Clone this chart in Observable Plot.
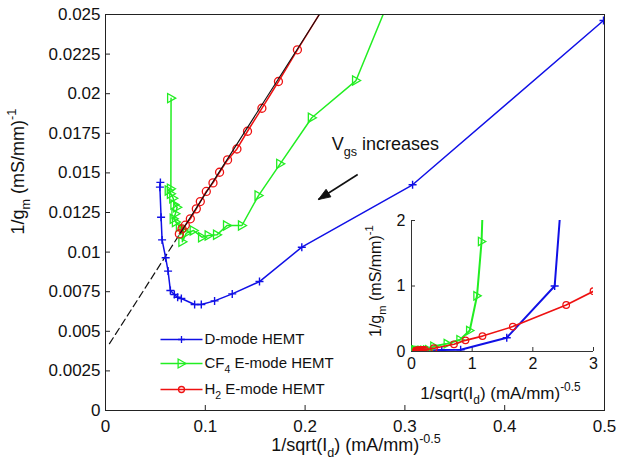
<!DOCTYPE html>
<html>
<head>
<meta charset="utf-8">
<script src="https://cdn.jsdelivr.net/npm/d3@7"></script>
<script src="https://cdn.jsdelivr.net/npm/@observablehq/plot@0.6"></script>
<style>
  html, body { margin: 0; padding: 0; background: #fff; }
  #wrap { position: relative; width: 618px; height: 460px; background: #fff; }
  #inset { position: absolute; left: 360px; top: 210px; }
</style>
</head>
<body>
<div id="wrap"><div id="main"></div><div id="inset"></div></div>
<script>
// ---------- data ----------
const xTicks = [0, 0.1, 0.2, 0.3, 0.4, 0.5];
const xTickLabels = ["0", "0.1", "0.2", "0.3", "0.4", "0.5"];
const yTicks = [0, 0.0025, 0.005, 0.0075, 0.01, 0.0125, 0.015, 0.0175, 0.02, 0.0225, 0.025];
const yTickLabels = ["0", "0.0025", "0.005", "0.0075", "0.01", "0.0125", "0.015", "0.0175", "0.02", "0.0225", "0.025"];

const dmodeX = [0.0550, 0.0545, 0.0557, 0.0567, 0.0603, 0.0627, 0.0650, 0.0690, 0.0723, 0.0760, 0.0893, 0.0960, 0.1093, 0.1270, 0.1543, 0.1967, 0.3077, 0.4990];
const dmodeY = [0.01440, 0.01410, 0.01220, 0.01077, 0.00964, 0.00880, 0.00758, 0.00732, 0.00715, 0.00707, 0.00669, 0.00669, 0.00692, 0.00736, 0.00814, 0.01031, 0.01425, 0.02462];

const cf4X = [0.0657, 0.0655, 0.0633, 0.0655, 0.0678, 0.0690, 0.0718, 0.0700, 0.0683, 0.0705, 0.0745, 0.0780, 0.0770, 0.0810, 0.0883, 0.0967, 0.1033, 0.1117, 0.1217, 0.1367, 0.1533, 0.1750, 0.2067, 0.2510, 0.2860];
const cf4Y = [0.01972, 0.01400, 0.01389, 0.01368, 0.01340, 0.01300, 0.01283, 0.01242, 0.01210, 0.01190, 0.01160, 0.01140, 0.01065, 0.01120, 0.01136, 0.01094, 0.01105, 0.01109, 0.01168, 0.01168, 0.01357, 0.01557, 0.01848, 0.02083, 0.02620];

const h2X = [0.0740, 0.0767, 0.0800, 0.0850, 0.0910, 0.0950, 0.1010, 0.1077, 0.1143, 0.1223, 0.1317, 0.1423, 0.1567, 0.1733, 0.1923, 0.2200];
const h2Y = [0.01115, 0.01147, 0.01170, 0.01210, 0.01273, 0.01319, 0.01383, 0.01437, 0.01504, 0.01582, 0.01651, 0.01763, 0.01908, 0.02077, 0.02277, 0.02560];

// linear fit line (dashed extrapolation, then solid)
const fitDashX = [0.0040, 0.0750];
const fitDashY = [0.00422, 0.01120];
const fitSolidX = [0.0750, 0.2143];
const fitSolidY = [0.01120, 0.02500];

// annotation
const arrowData = [{x1: 0.2527, y1: 0.01490, x2: 0.2133, y2: 0.01332}];
const noteData = [{x: 0.2267, y: 0.01678, text: "V_{gs} increases"}];

// inset data (wide range)
const insetXTicks = [0, 1, 2, 3];
const insetYTicks = [0, 1, 2];
const dmodeInsetX = [...dmodeX, 0.81, 1.57, 2.36, 2.45];
const dmodeInsetY = [...dmodeY, 0.027, 0.21, 1.00, 2.10];
const cf4InsetX = [...cf4X, 0.37, 0.59, 0.80, 0.96, 1.08, 1.155, 1.17];
const cf4InsetY = [...cf4Y, 0.08, 0.12, 0.18, 0.32, 0.85, 1.68, 2.10];
const h2InsetX = [...h2X, 0.37, 0.70, 0.89, 1.17, 1.67, 2.55, 3.00];
const h2InsetY = [...h2Y, 0.05, 0.11, 0.17, 0.235, 0.38, 0.71, 0.92];

const seriesNames = ["D-mode HEMT", "CF_{4} E-mode HEMT", "H_{2} E-mode HEMT"];
const yLabel = "1/g_{m} (mS/mm)^{-1}";
const xLabel = "1/sqrt(I_{d}) (mA/mm)^{-0.5}";

// ---------- styles ----------
const BLUE = "#1010e6", GREEN = "#22ee22", RED = "#ee1111";
const FONT = "'Liberation Sans', Arial, Helvetica, sans-serif";

const plusSym = {draw(ctx, size) { const r = Math.sqrt(size / Math.PI); ctx.moveTo(-r, 0); ctx.lineTo(r, 0); ctx.moveTo(0, -r); ctx.lineTo(0, r); }};
const triSym = {draw(ctx, size) { const r = Math.sqrt(size / Math.PI); ctx.moveTo(r, 0); ctx.lineTo(-r * 0.75, -r); ctx.lineTo(-r * 0.75, r); ctx.closePath(); }};
const segSym = (half) => ({draw(ctx) { ctx.moveTo(-half, 0); ctx.lineTo(half, 0); }});
const headSym = {draw(ctx) { ctx.moveTo(0, 0); ctx.lineTo(-12, -4.5); ctx.lineTo(-12, 4.5); ctx.closePath(); }};

const zip = (xs, ys) => xs.map((x, i) => ({x, y: ys[i]}));
const dmode = zip(dmodeX, dmodeY), cf4 = zip(cf4X, cf4Y), h2 = zip(h2X, h2Y);
const fitDash = zip(fitDashX, fitDashY), fitSolid = zip(fitSolidX, fitSolidY);

// ---------- main plot ----------
const W = 618, H = 460, mL = 105, mR = 14, mT = 14, mB = 50;
const fw = W - mL - mR, fh = H - mT - mB;
const xDom = [0, 0.5], yDom = [0, 0.025];

// arrow head orientation in screen space (derived from the scales' pixel ratios)
const a = arrowData[0];
const headAngle = Math.atan2(-(a.y2 - a.y1) * fh / (yDom[1] - yDom[0]), (a.x2 - a.x1) * fw / (xDom[1] - xDom[0])) * 180 / Math.PI;

const legendRows = [
  {dy: -71, color: BLUE, sym: plusSym, r: 3.5},
  {dy: -47, color: GREEN, sym: triSym, r: 4.5},
  {dy: -21, color: RED, sym: "circle", r: 3}
];
const legendMarks = legendRows.flatMap((row, i) => [
  Plot.dot([0], {frameAnchor: "bottom-left", dx: 76, dy: row.dy, symbol: segSym(21), r: 1, stroke: row.color, strokeWidth: 1.5, fill: "none"}),
  Plot.dot([0], {frameAnchor: "bottom-left", dx: 76, dy: row.dy, symbol: row.sym, r: row.r, stroke: row.color, strokeWidth: 1.3, fill: "none"}),
  Plot.text([seriesNames[i]], {frameAnchor: "bottom-left", dx: 99, dy: row.dy, text: d => d, textAnchor: "start", lineAnchor: "middle", fontSize: 15, fill: "#111"})
]);

const main = Plot.plot({
  width: W, height: H,
  marginLeft: mL, marginRight: mR, marginTop: mT, marginBottom: mB,
  style: {fontFamily: FONT, fontSize: "17px", background: "white", color: "#111"},
  x: {domain: xDom},
  y: {domain: yDom},
  marks: [
    Plot.axisY(yTicks, {tickSize: 0, tickPadding: 5, fontSize: 17, tickFormat: d => yTickLabels[yTicks.indexOf(d)], label: null}),
    Plot.axisX(xTicks, {tickSize: 0, tickPadding: 9, fontSize: 17, tickFormat: d => xTickLabels[xTicks.indexOf(d)], label: null}),
    Plot.tickX(xTicks, {x: d => d, insetTop: fh - 5, stroke: "#222"}),
    Plot.tickY(yTicks, {y: d => d, insetRight: fw - 5, stroke: "#222"}),
    Plot.line(fitDash, {x: "x", y: "y", stroke: "#111", strokeWidth: 1.2, strokeDasharray: "7,4"}),
    Plot.line(dmode, {x: "x", y: "y", stroke: BLUE, strokeWidth: 1.5, clip: true}),
    Plot.dot(dmode, {x: "x", y: "y", symbol: plusSym, r: 4, stroke: BLUE, strokeWidth: 1.4, fill: "none", clip: true}),
    Plot.line(cf4, {x: "x", y: "y", stroke: GREEN, strokeWidth: 1.5, clip: true}),
    Plot.dot(cf4, {x: "x", y: "y", symbol: triSym, r: 4.6, stroke: GREEN, strokeWidth: 1.3, fill: "none", clip: true}),
    Plot.line(h2, {x: "x", y: "y", stroke: RED, strokeWidth: 1.5, clip: true}),
    Plot.dot(h2, {x: "x", y: "y", symbol: "circle", r: 4, stroke: RED, strokeWidth: 1.3, fill: "none", clip: true}),
    Plot.line(fitSolid, {x: "x", y: "y", stroke: "#111", strokeWidth: 1.1, clip: true}),
    Plot.link(arrowData, {x1: "x1", y1: "y1", x2: "x2", y2: "y2", stroke: "#111", strokeWidth: 1.6}),
    Plot.dot(arrowData, {x: "x2", y: "y2", symbol: headSym, rotate: headAngle, fill: "#111", stroke: "#111", strokeWidth: 0.8}),
    Plot.text(noteData, {x: "x", y: "y", text: "text", textAnchor: "start", lineAnchor: "middle", fontSize: 18, fill: "#111"}),
    ...legendMarks,
    Plot.text([yLabel], {frameAnchor: "left", dx: -87, dy: 22, rotate: -90, text: d => d, textAnchor: "start", lineAnchor: "middle", fontSize: 18, fill: "#111"}),
    Plot.text([xLabel], {frameAnchor: "bottom", dx: 1, dy: 35, text: d => d, textAnchor: "middle", lineAnchor: "middle", fontSize: 18, fill: "#111"}),
    Plot.frame({stroke: "#222", strokeWidth: 1})
  ]
});
document.getElementById("main").appendChild(main);

// ---------- inset ----------
const iW = 245, iH = 195, imL = 51, imR = 12, imT = 10, imB = 54;
const ifw = iW - imL - imR, ifh = iH - imT - imB;
const dmodeI = zip(dmodeInsetX, dmodeInsetY), cf4I = zip(cf4InsetX, cf4InsetY), h2I = zip(h2InsetX, h2InsetY);

const inset = Plot.plot({
  width: iW, height: iH,
  marginLeft: imL, marginRight: imR, marginTop: imT, marginBottom: imB,
  style: {fontFamily: FONT, fontSize: "16px", background: "transparent", color: "#111", overflow: "visible"},
  x: {domain: [0, 3]},
  y: {domain: [0, 2]},
  marks: [
    Plot.axisY(insetYTicks, {tickSize: 0, tickPadding: 6, fontSize: 16, tickFormat: d => String(d), label: null}),
    Plot.axisX(insetXTicks, {tickSize: 0, tickPadding: 6, fontSize: 16, tickFormat: d => String(d), label: null}),
    Plot.tickX(insetXTicks.slice(1), {x: d => d, insetTop: ifh - 4, stroke: "#333"}),
    Plot.tickY(insetYTicks.slice(1), {y: d => d, insetRight: ifw - 4, stroke: "#333"}),
    Plot.ruleX([0], {stroke: "#333"}),
    Plot.ruleY([0], {stroke: "#333"}),
    Plot.line(dmodeI, {x: "x", y: "y", stroke: BLUE, strokeWidth: 2, clip: true}),
    Plot.dot(dmodeI, {x: "x", y: "y", symbol: plusSym, r: 4, stroke: BLUE, strokeWidth: 1.4, fill: "none", clip: true}),
    Plot.line(cf4I, {x: "x", y: "y", stroke: GREEN, strokeWidth: 2, clip: true}),
    Plot.dot(cf4I, {x: "x", y: "y", symbol: triSym, r: 4.2, stroke: GREEN, strokeWidth: 1.3, fill: "none", clip: true}),
    Plot.line(h2I, {x: "x", y: "y", stroke: RED, strokeWidth: 1.6, clip: true}),
    Plot.dot(h2I, {x: "x", y: "y", symbol: "circle", r: 3.3, stroke: RED, strokeWidth: 1.2, fill: "none", clip: true}),
    Plot.text([yLabel], {frameAnchor: "left", dx: -36, dy: 51, rotate: -90, text: d => d, textAnchor: "start", lineAnchor: "middle", fontSize: 16, fill: "#111"}),
    Plot.text([xLabel], {frameAnchor: "bottom", dx: -2, dy: 42, text: d => d, textAnchor: "middle", lineAnchor: "middle", fontSize: 17, fill: "#111"})
  ]
});
document.getElementById("inset").appendChild(inset);

// ---------- rich text (sub/superscripts) ----------
function richify(svg) {
  svg.querySelectorAll("text").forEach(el => {
    const s = el.textContent;
    if (!/[_^]\{/.test(s)) return;
    const fs = parseFloat(getComputedStyle(el).fontSize) || 16;
    const parts = [];
    const re = /([_^])\{([^}]*)\}/g;
    let last = 0, m;
    while ((m = re.exec(s))) {
      if (m.index > last) parts.push({t: s.slice(last, m.index), k: "n"});
      parts.push({t: m[2], k: m[1] === "_" ? "sub" : "sup"});
      last = re.lastIndex;
    }
    if (last < s.length) parts.push({t: s.slice(last), k: "n"});
    el.textContent = "";
    let shift = 0;
    for (const p of parts) {
      const target = p.k === "n" ? 0 : p.k === "sub" ? 0.32 * fs : -0.45 * fs;
      const ts = document.createElementNS("http://www.w3.org/2000/svg", "tspan");
      ts.setAttribute("dy", (target - shift).toFixed(2));
      if (p.k !== "n") ts.setAttribute("font-size", (0.7 * fs).toFixed(1));
      ts.textContent = p.t;
      el.appendChild(ts);
      shift = target;
    }
  });
}
richify(main);
richify(inset);
</script>
</body>
</html>
